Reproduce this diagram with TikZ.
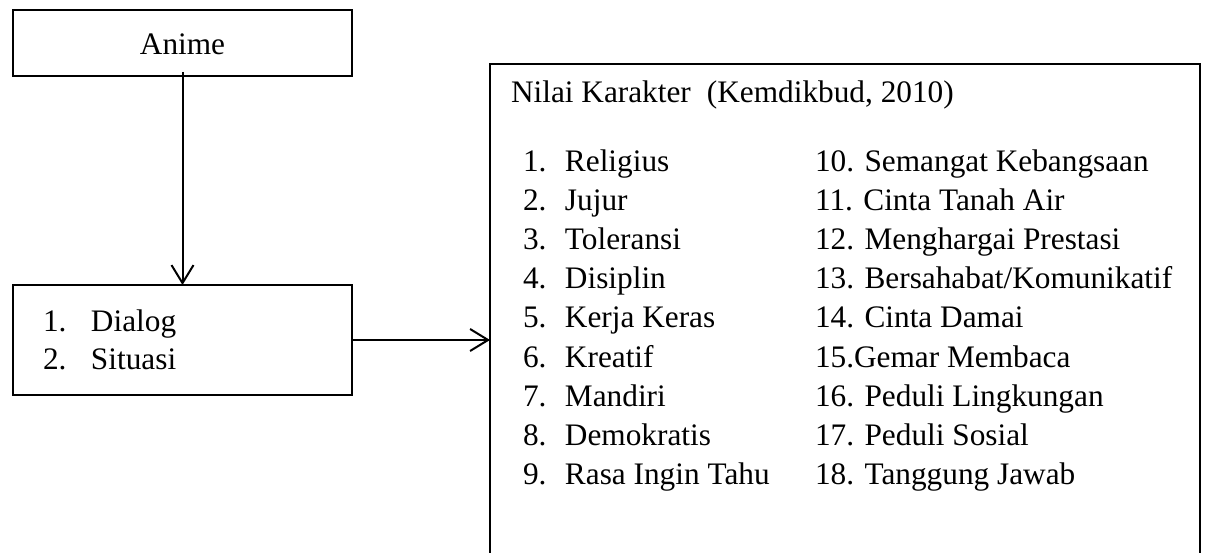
\documentclass[tikz,border=0pt]{standalone}
\usepackage{fontspec}
\setmainfont{Liberation Serif}
\usetikzlibrary{arrows.meta}
\begin{document}
\begin{tikzpicture}[x=1pt,y=-1pt,
  every node/.style={inner sep=0pt, outer sep=0pt},
  box/.style={draw, line width=1.3pt},
  txt/.style={anchor=base west, font=\fontsize{31.3}{39}\selectfont},
  arr/.style={line width=2pt, -{Straight Barb[length=18pt,width=22pt,line width=2pt]}}]
\useasboundingbox (0,0) rectangle (1205,553);
\clip (0,0) rectangle (1205,553);
% boxes
\node[box, minimum width=339pt, minimum height=66pt, anchor=north west] (anime) at (13,10) {};
\node[txt, anchor=base] (animetxt) at (182.5,55) {Anime};
\node[box, minimum width=339pt, minimum height=110pt, anchor=north west] (dialog) at (13,285) {};
\node[txt] (d1) at (43,332) {\makebox[48pt][l]{1.}Dialog};
\node[txt] (d2) at (43,370) {\makebox[48pt][l]{2.}Situasi};
\node[box, minimum width=710pt, minimum height=560pt, anchor=north west] (nilai) at (490,64) {};
\node[txt] (title) at (511,103) {Nilai Karakter\hspace{16pt}(Kemdikbud, 2010)};
% left column
\foreach \n/\t [count=\i] in {1/Religius,2/Jujur,3/Toleransi,4/Disiplin,5/Kerja Keras,6/Kreatif,7/Mandiri,8/Demokratis,9/Rasa Ingin Tahu}
  \node[txt] (a\i) at (523,{172+39*(\i-1)}) {\makebox[42pt][l]{\n.}\t};
% right column
\foreach \t [count=\i] in {10. Semangat Kebangsaan,11. Cinta Tanah Air,12. Menghargai Prestasi,13. Bersahabat/Komunikatif,14. Cinta Damai,15.Gemar Membaca,16. Peduli Lingkungan,17. Peduli Sosial,18. Tanggung Jawab}
  \node[txt] (b\i) at (815,{172+39*(\i-1)}) {\t};
% connectors
\draw[arr] ([yshift=4pt]anime.south) -- (dialog.north);
\draw[arr] (dialog.east) -- (dialog.east -| nilai.west);
\end{tikzpicture}
\end{document}
